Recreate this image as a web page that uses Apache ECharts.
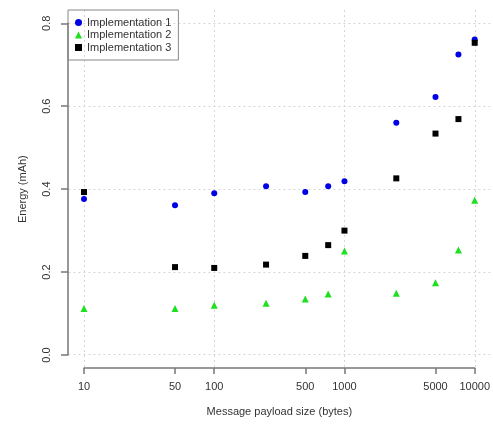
<!DOCTYPE html>
<html>
<head>
<meta charset="utf-8">
<script src="https://cdn.jsdelivr.net/npm/echarts@6/dist/echarts.min.js"></script>
<style>
  html, body { margin: 0; padding: 0; background: #fff; }
  #chart { width: 493px; height: 424px; }
</style>
</head>
<body>
<div id="chart"></div>
<script>
// payload sizes (bytes)
var payloadSizes = [10, 50, 100, 250, 500, 750, 1000, 2500, 5000, 7500, 10000];
// energy (mAh)
var impl1 = [0.376, 0.361, 0.390, 0.407, 0.393, 0.407, 0.419, 0.560, 0.622, 0.725, 0.761];
var impl2 = [0.112, 0.112, 0.120, 0.125, 0.135, 0.147, 0.251, 0.149, 0.174, 0.253, 0.373];
var impl3 = [0.393, 0.212, 0.210, 0.218, 0.239, 0.265, 0.300, 0.426, 0.534, 0.569, 0.753];
var seriesNames = ['Implementation 1', 'Implementation 2', 'Implementation 3'];
var xTickLabels = [10, 50, 100, 500, 1000, 5000, 10000];
var xGridValues = [10, 100, 1000, 10000];
var yTicks = [0, 0.2, 0.4, 0.6, 0.8];

function pairs(vals) {
  return payloadSizes.map(function (x, i) { return [x, vals[i]]; });
}

var font = '"Liberation Sans", Arial, sans-serif';
var gridLine = { show: true, lineStyle: { color: '#d6d6d6', type: [2, 3], width: 1 } };

var chart = echarts.init(document.getElementById('chart'));
chart.setOption({
  animation: false,
  textStyle: { fontFamily: font },
  grid: [
    // plot region (for the grid lines)
    { left: 68.4, right: 2.5, top: 10, bottom: 56 },
    // data range
    { left: 84, right: 17.7, top: 23.3, bottom: 69 }
  ],
  legend: {
    orient: 'vertical',
    left: 68, top: 10,
    borderColor: '#888', borderWidth: 1, borderRadius: 0,
    padding: [7, 7, 7, 7],
    itemGap: 1.5,
    itemWidth: 7, itemHeight: 7, itemTextGap: 7,
    textStyle: { fontSize: 11, lineHeight: 11, color: '#333', fontFamily: font },
    data: [
      { name: seriesNames[0], icon: 'circle' },
      { name: seriesNames[1], icon: 'triangle' },
      { name: seriesNames[2], icon: 'rect' }
    ]
  },
  xAxis: [
    {
      gridIndex: 0, type: 'value',
      min: 1 - 0.12, max: 4 + 0.12,
      axisLine: { show: false }, axisLabel: { show: false },
      axisTick: { show: false, customValues: xGridValues.map(Math.log10) },
      splitLine: gridLine
    },
    {
      gridIndex: 1, type: 'log', logBase: 10, min: 10, max: 10000, show: false
    },
    {
      gridIndex: 1, type: 'value', min: 1, max: 4, position: 'bottom', offset: 13,
      axisLine: { show: true, lineStyle: { color: '#777', width: 1.5 } },
      axisTick: { show: true, length: 6, lineStyle: { color: '#777', width: 1.5 },
        customValues: xTickLabels.map(Math.log10) },
      axisLabel: { customValues: xTickLabels.map(Math.log10), margin: 13,
        fontSize: 11, color: '#333', fontFamily: font,
        formatter: function (v) { return String(Math.round(Math.pow(10, v))); } },
      splitLine: { show: false },
      name: 'Message payload size (bytes)', nameLocation: 'middle', nameGap: 38,
      nameTextStyle: { fontSize: 11, color: '#333', fontFamily: font }
    }
  ],
  yAxis: [
    {
      gridIndex: 0, type: 'value', min: -0.032, max: 0.832,
      axisLine: { show: false }, axisLabel: { show: false },
      axisTick: { show: false, customValues: yTicks },
      splitLine: gridLine
    },
    {
      gridIndex: 1, type: 'value', min: 0, max: 0.8, interval: 0.2, offset: 16,
      axisLine: { show: true, lineStyle: { color: '#777', width: 1.5 } },
      axisTick: { show: true, length: 7, lineStyle: { color: '#777', width: 1.5 } },
      axisLabel: { rotate: 90, margin: 16, fontSize: 11, color: '#333', fontFamily: font,
        formatter: function (v) { return v.toFixed(1); } },
      splitLine: { show: false },
      name: 'Energy (mAh)', nameLocation: 'middle', nameGap: 40,
      nameTextStyle: { fontSize: 11, color: '#333', fontFamily: font }
    }
  ],
  series: [
    { name: seriesNames[0], type: 'scatter', xAxisIndex: 1, yAxisIndex: 1,
      symbol: 'circle', symbolSize: 6, itemStyle: { color: '#0000e6', opacity: 1 }, data: pairs(impl1) },
    { name: seriesNames[1], type: 'scatter', xAxisIndex: 1, yAxisIndex: 1,
      symbol: 'triangle', symbolSize: 7, itemStyle: { color: '#1ee01e', opacity: 1 }, data: pairs(impl2) },
    { name: seriesNames[2], type: 'scatter', xAxisIndex: 1, yAxisIndex: 1,
      symbol: 'rect', symbolSize: 6, itemStyle: { color: '#000', opacity: 1 }, data: pairs(impl3) }
  ]
});
</script>
</body>
</html>
